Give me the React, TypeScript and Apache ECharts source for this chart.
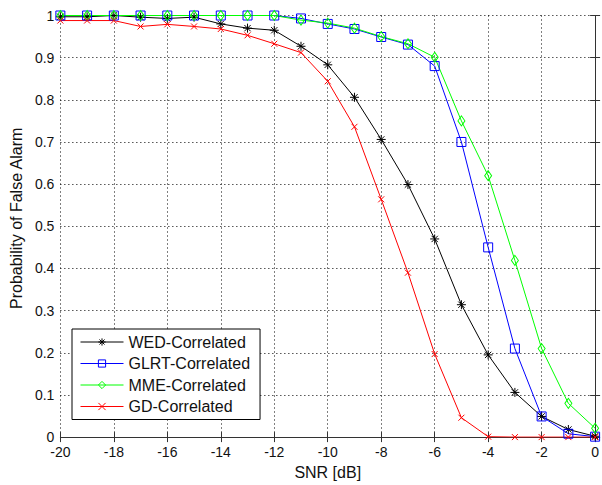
import React, { useEffect, useRef } from "react";
import * as echarts from "echarts";

const snr = [-20, -19, -18, -17, -16, -15, -14, -13, -12, -11, -10, -9, -8, -7, -6, -5, -4, -3, -2, -1, 0];
const wed = [0.997, 0.997, 1.0, 0.996, 0.993, 0.996, 0.98, 0.97, 0.965, 0.927, 0.883, 0.806, 0.706, 0.599, 0.47, 0.314, 0.195, 0.106, 0.049, 0.018, 0.002];
const glrt = [1, 1, 1, 1, 1, 1, 1, 1, 1, 0.993, 0.98, 0.968, 0.949, 0.931, 0.88, 0.7, 0.45, 0.21, 0.049, 0.008, 0.001];
const mme = [1, 1, 1, 1, 1, 1, 1, 1, 1, 0.989, 0.982, 0.97, 0.95, 0.933, 0.901, 0.75, 0.62, 0.419, 0.21, 0.08, 0.021];
const gd = [0.988, 0.988, 0.988, 0.974, 0.979, 0.974, 0.968, 0.953, 0.933, 0.912, 0.844, 0.736, 0.564, 0.39, 0.197, 0.046, 0.001, 0, 0, 0, 0];
const seriesNames = ["WED-Correlated", "GLRT-Correlated", "MME-Correlated", "GD-Correlated"];

const FONT = "'Liberation Sans', Arial, sans-serif";

const STAR = "path://M5,0L5,10M0,5L10,5M1.5,1.5L8.5,8.5M8.5,1.5L1.5,8.5";
const SQUARE = "path://M0,0L10,0L10,10L0,10Z";
const DIAMOND = "path://M5,0L10,5L5,10L0,5Z";
const XMARK = "path://M0,0L10,10M10,0L0,10";

function mk(name: string, values: number[], color: string, symbol: string, size: number | number[]) {
  return {
    name,
    type: "line",
    data: snr.map((x, i) => [x, values[i]]),
    symbol,
    symbolSize: size,
    showAllSymbol: true,
    lineStyle: { color, width: 1 },
    itemStyle: { color: "transparent", borderColor: color, borderWidth: 1 },
    emphasis: { disabled: true },
  };
}

export default function App() {
  const ref = useRef<HTMLDivElement>(null);
  useEffect(() => {
    if (!ref.current) return;
    const chart = echarts.init(ref.current, undefined, { renderer: "svg" });
    const axisLine = { show: true, lineStyle: { color: "#333", width: 1 } };
    const tick = { show: true, inside: true, length: 5, lineStyle: { color: "#333" } };
    chart.setOption({
      animation: false,
      backgroundColor: "#fff",
      textStyle: { fontFamily: FONT },
      grid: { left: 56, right: 3, top: 15.5, bottom: 41.5, containLabel: false },
      xAxis: [
        {
          type: "value",
          min: -20,
          max: 0,
          interval: 2,
          z: 3,
          name: "SNR [dB]",
          nameLocation: "middle",
          nameGap: 22,
          nameTextStyle: { fontSize: 16, color: "#111", fontFamily: FONT },
          axisLine,
          axisTick: tick,
          axisLabel: { fontSize: 14, lineHeight: 12, color: "#111", margin: 9, fontFamily: FONT },
          splitLine: { show: true, lineStyle: { color: "#000", width: 1, type: [1, 3] } },
        },
        {
          type: "value",
          position: "top",
          min: -20,
          max: 0,
          interval: 2,
          z: 3,
          axisLine,
          axisTick: tick,
          axisLabel: { show: false },
          splitLine: { show: false },
        },
      ],
      yAxis: [
        {
          type: "value",
          min: 0,
          max: 1,
          interval: 0.1,
          z: 3,
          name: "Probability of False Alarm",
          nameLocation: "middle",
          nameGap: 32,
          nameTextStyle: { fontSize: 16, color: "#111", fontFamily: FONT, padding: [0, 0, 0, 16] },
          axisLine,
          axisTick: tick,
          axisLabel: { fontSize: 14, lineHeight: 12, color: "#111", margin: 6, fontFamily: FONT },
          splitLine: { show: true, lineStyle: { color: "#000", width: 1, type: [1, 3] } },
        },
        {
          type: "value",
          position: "right",
          min: 0,
          max: 1,
          interval: 0.1,
          z: 3,
          axisLine,
          axisTick: tick,
          axisLabel: { show: false },
          splitLine: { show: false },
        },
      ],
      legend: {
        data: seriesNames,
        orient: "vertical",
        left: 72,
        top: 329,
        padding: [5, 10, 5, 8],
        itemWidth: 43,
        itemHeight: 9,
        itemGap: 5.5,
        borderColor: "#000",
        borderWidth: 1,
        backgroundColor: "#fff",
        z: 5,
        textStyle: { fontSize: 16, lineHeight: 16, color: "#111", fontFamily: FONT },
        itemStyle: { borderWidth: 1 },
        lineStyle: { width: 1 },
      },
      series: [
        mk(seriesNames[0], wed, "#000000", STAR, 9),
        mk(seriesNames[1], glrt, "#0000ff", SQUARE, 9),
        mk(seriesNames[2], mme, "#00ff00", DIAMOND, [7, 10]),
        mk(seriesNames[3], gd, "#ff0000", XMARK, 6),
      ],
    });
    return () => chart.dispose();
  }, []);
  return <div ref={ref} style={{ position: "fixed", left: 0, top: 0, width: 602, height: 485 }} />;
}
